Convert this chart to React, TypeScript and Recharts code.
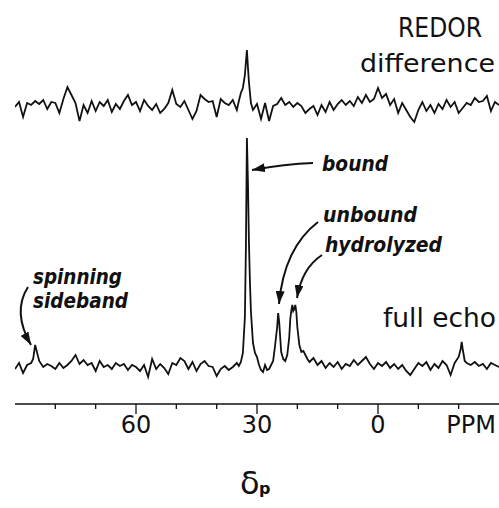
import { LineChart, Line, XAxis, YAxis } from 'recharts';

// chemical shift grid (ppm), right to left on the axis
const ppmGrid = [
  90, 89, 88, 87, 86, 85, 84, 83, 82, 81, 80, 79, 78, 77, 76, 75, 74, 73, 72, 71,
  70, 69, 68, 67, 66, 65, 64, 63, 62, 61, 60, 59, 58, 57, 56, 55, 54, 53, 52, 51,
  50, 49, 48, 47, 46, 45, 44, 43, 42, 41, 40, 39, 38, 37, 36, 35, 34, 33, 32, 31,
  30, 29, 28, 27, 26, 25, 24, 23, 22, 21, 20, 19, 18, 17, 16, 15, 14, 13, 12, 11,
  10, 9, 8, 7, 6, 5, 4, 3, 2, 1, 0, -1, -2, -3, -4, -5, -6, -7, -8, -9,
  -10, -11, -12, -13, -14, -15, -16, -17, -18, -19, -20, -21, -22, -23, -24, -25, -26, -27, -28, -29,
  -30,
];

// REDOR difference trace
const diffValues = [
  0, 5, -10, 4, 2, 6, 3, 7, -2, 5, 4, -6, 8, 20, 12, 4, -14, 2, -6, 6,
  -4, 5, 1, 7, -5, 3, -2, 6, 12, 2, 5, -4, 7, 1, -3, 3, -6, -2, 4, 17,
  3, 0, 6, -3, -12, -4, 12, 8, 5, 6, -10, 8, 4, 2, 7, -3, 14, 32, 25, -3,
  3, -12, 4, -14, 1, 3, 9, 2, 5, 0, 4, 1, -6, -2, 1, -8, 2, -5, 5, -3,
  3, 7, 2, 6, 1, 10, 4, 12, 5, 8, 19, 9, 13, 2, 8, -6, 4, -3, -10, -15,
  -3, 5, -4, 2, -6, 3, -2, 7, 0, 5, -6, -1, 4, 2, 9, 5, 6, 11, -4, 5,
  2,
];
const diffPeakPpm = [34.5, 33.5, 32.75, 32.5, 32.25, 31.5];
const diffPeakValues = [6, 19, 45, 57, 40, 4];

// full echo trace
const echoValues = [
  -2, 4, -6, 2, 4, 22, 6, 0, 3, 1, -2, 4, -1, 2, 6, 12, 3, 7, 2, 4,
  -4, 6, 0, 2, -2, 4, 1, 3, -3, 2, 0, -4, 2, -10, 8, -2, 3, -1, -7, 4,
  2, 9, 6, -2, 5, -4, 3, 6, 1, 0, -9, -2, 1, -3, 0, 4, 5, 50, 125, 24,
  10, -3, 2, -2, 6, 40, 15, 6, 30, 56, 40, 15, 12, 5, 9, 2, 6, -1, 4, 0,
  5, -2, 3, 1, 7, 2, 6, 10, 3, -2, 4, 1, 5, -1, 3, -2, 2, -4, -8, -2,
  4, 1, 5, -3, 3, -1, 6, 2, -8, 4, 10, 18, 4, 2, 5, 1, 3, -2, 4, 2,
  0,
];
const echoPeakPpm = [
  85.5, 84.5, 34.5, 33.5, 32.75, 32.5, 32.25, 31.75, 31.5, 30.5, 29.5, 28.5, 27.5, 26.5,
  25.5, 24.75, 24.5, 24.25, 23.5, 22.5, 21.75, 21.5, 21.25, 20.75, 20.5, 20.25, 19.5,
  18.5, 17.5, -20.5, -20.75, -21.5,
];
const echoPeakValues = [
  8, 14, 1, 14, 120, 229, 185, 85, 55, 14, 2, -5, -3, 2,
  22, 54, 45, 30, 8, 12, 48, 56, 62, 58, 62, 55, 22,
  16, 8, 18, 25, 6,
];

const axisTicks = [80, 70, 60, 50, 40, 30, 20, 10, 0, -10, -20];
const labelledTicks = [60, 30, 0];
const diffOffset = 260;

function buildTrace(base: number[], extraPpm: number[], extraVal: number[], offset: number) {
  const m = new Map<number, number>();
  ppmGrid.forEach((p, i) => m.set(p, base[i]));
  extraPpm.forEach((p, i) => m.set(p, extraVal[i]));
  return [...m.entries()]
    .sort((a, b) => b[0] - a[0])
    .map(([ppm, v]) => ({ ppm, v: v + offset }));
}

const diffData = buildTrace(diffValues, diffPeakPpm, diffPeakValues, diffOffset);
const echoData = buildTrace(echoValues, echoPeakPpm, echoPeakValues, 0);

const FONT = '"DejaVu Sans", sans-serif';

function PpmTick(props: any) {
  const { x, y, payload } = props;
  const major = labelledTicks.includes(payload.value);
  return (
    <g>
      <line x1={x} x2={x} y1={y} y2={y + (major ? 10 : 5)} stroke="#111" strokeWidth={1.3} />
      {major && (
        <text x={x} y={y + 29} textAnchor="middle" fontFamily={FONT} fontSize={24} fill="#111">
          {payload.value}
        </text>
      )}
    </g>
  );
}

export default function App() {
  const italic = { fontFamily: FONT, fontStyle: 'italic', fontWeight: 'bold', fontSize: 21, fill: '#111' } as const;
  const plain = { fontFamily: FONT, fontSize: 25, fill: '#111' } as const;
  return (
    <div style={{ position: 'absolute', left: 0, top: 0, width: 499, height: 508, background: '#fff' }}>
      <LineChart width={499} height={508} margin={{ top: 20, right: 0, left: 15, bottom: 44 }}>
        <XAxis
          dataKey="ppm"
          type="number"
          domain={[-30, 90]}
          reversed
          ticks={axisTicks}
          tickSize={0}
          tickMargin={0}
          tickLine={false}
          tick={<PpmTick />}
          axisLine={{ stroke: '#111', strokeWidth: 1.6 }}
          height={60}
          allowDataOverflow
        />
        <YAxis type="number" domain={[-37, 347]} hide allowDataOverflow />
        <Line
          data={echoData}
          dataKey="v"
          type="linear"
          stroke="#111"
          strokeWidth={1.8}
          dot={false}
          isAnimationActive={false}
        />
        <Line
          data={diffData}
          dataKey="v"
          type="linear"
          stroke="#111"
          strokeWidth={1.8}
          dot={false}
          isAnimationActive={false}
        />
      </LineChart>
      <svg width={499} height={508} style={{ position: 'absolute', left: 0, top: 0, pointerEvents: 'none' }}>
        <defs>
          <marker id="head" markerWidth={13} markerHeight={9} refX={13} refY={4.5} orient="auto" markerUnits="userSpaceOnUse">
            <path d="M0,0 L13,4.5 L0,9 z" fill="#111" />
          </marker>
        </defs>
        <text x={398} y={37} textLength={84} lengthAdjust="spacingAndGlyphs" {...plain} fontSize={26}>REDOR</text>
        <text x={360} y={72} textLength={135} lengthAdjust="spacingAndGlyphs" {...plain}>difference</text>
        <text x={383} y={327} textLength={113} lengthAdjust="spacingAndGlyphs" {...plain} fontSize={26}>full echo</text>
        <text x={322} y={171} textLength={66} lengthAdjust="spacingAndGlyphs" {...italic}>bound</text>
        <text x={323} y={222} textLength={94} lengthAdjust="spacingAndGlyphs" {...italic}>unbound</text>
        <text x={325} y={252} textLength={117} lengthAdjust="spacingAndGlyphs" {...italic}>hydrolyzed</text>
        <text x={33} y={284} textLength={89} lengthAdjust="spacingAndGlyphs" {...italic}>spinning</text>
        <text x={33} y={308} textLength={95} lengthAdjust="spacingAndGlyphs" {...italic}>sideband</text>
        <path d="M313,163 Q285,164 252,170" fill="none" stroke="#111" strokeWidth={2} markerEnd="url(#head)" />
        <path d="M318,222 Q284,248 279,304" fill="none" stroke="#111" strokeWidth={2} markerEnd="url(#head)" />
        <path d="M322,255 Q302,268 297,298" fill="none" stroke="#111" strokeWidth={2} markerEnd="url(#head)" />
        <path d="M28,287 Q12,312 31,345" fill="none" stroke="#111" strokeWidth={2} markerEnd="url(#head)" />
        <text x={496} y={433} textAnchor="end" fontFamily={FONT} fontSize={24} fill="#111">PPM</text>
        <text x={240} y={494} fontFamily={FONT} fontSize={32} fill="#111">δ</text>
        <text x={259} y={494} fontFamily={FONT} fontSize={16} fontWeight="bold" fill="#111">p</text>
      </svg>
    </div>
  );
}
